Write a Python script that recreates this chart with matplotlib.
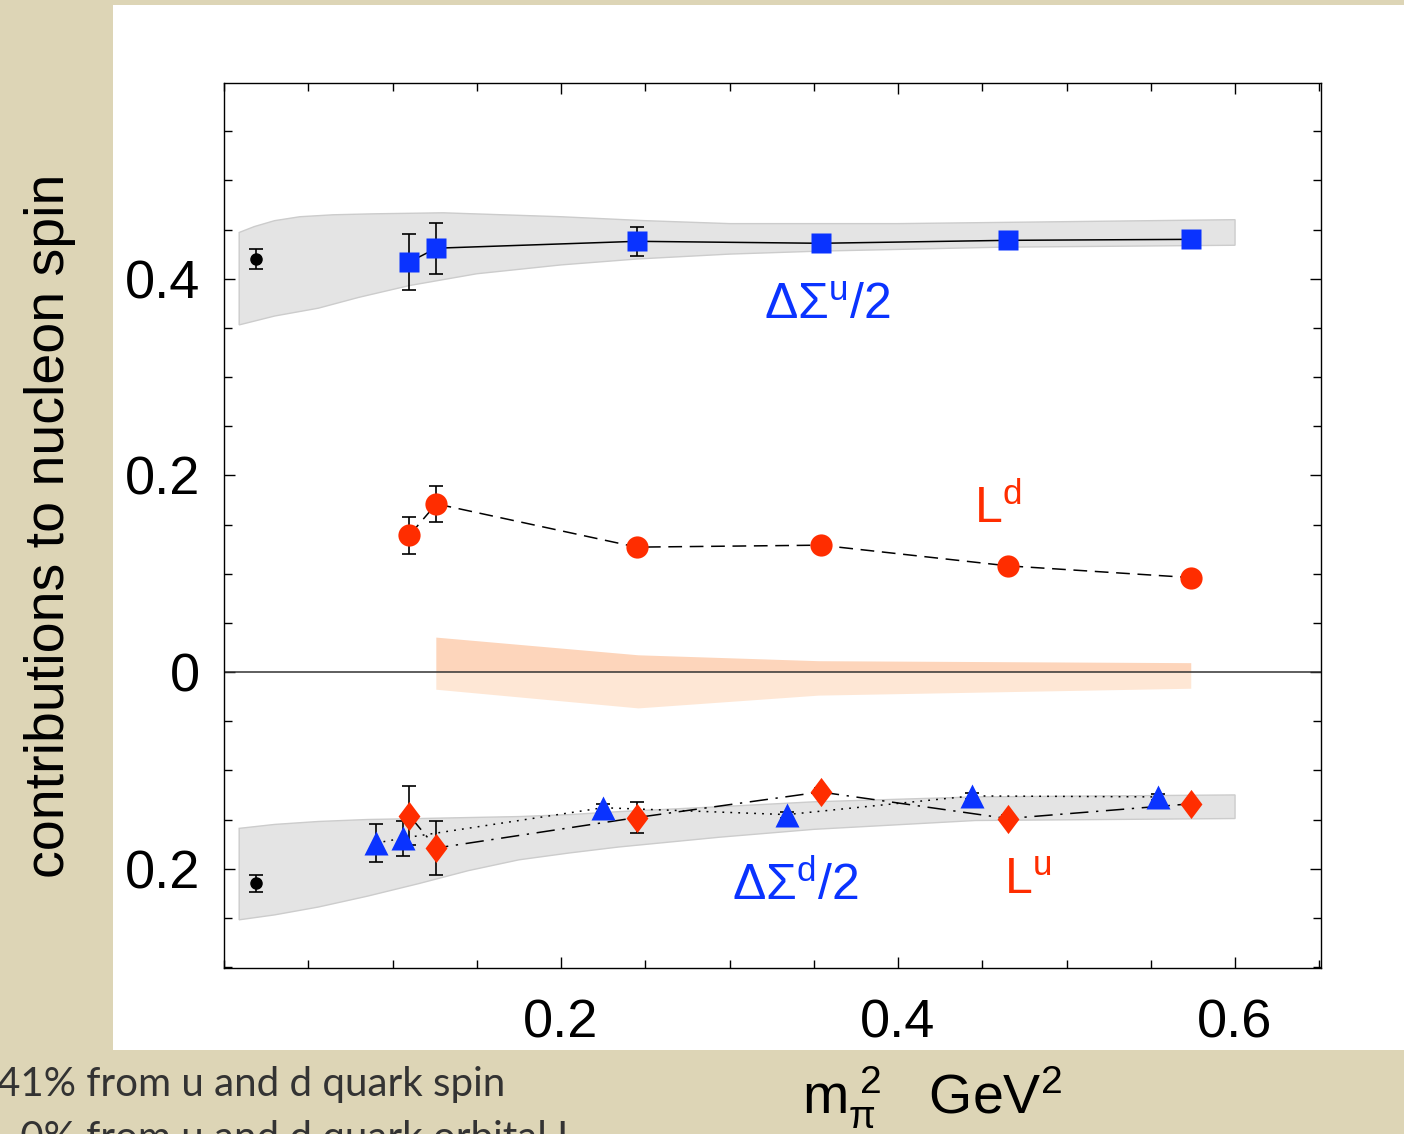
import matplotlib
matplotlib.use("Agg")
import matplotlib.pyplot as plt
import matplotlib.patches as patches
from matplotlib.ticker import MultipleLocator, FixedLocator

plt.rcParams['font.family'] = ['Liberation Sans', 'DejaVu Sans']
plt.rcParams['mathtext.fontset'] = 'custom'
plt.rcParams['mathtext.rm'] = 'Liberation Sans'
plt.rcParams['mathtext.it'] = 'Liberation Sans:italic'

# lattice points (m_pi^2 in GeV^2)
mpi2 = [0.110, 0.126, 0.245, 0.354, 0.465, 0.574]
mpi2_shift = [0.090, 0.106, 0.225, 0.334, 0.444, 0.554]

dsig_u = [0.417, 0.431, 0.438, 0.436, 0.439, 0.440]
dsig_u_err = [0.028, 0.026, 0.015, 0.004, 0.003, 0.003]
L_d = [0.139, 0.171, 0.127, 0.129, 0.108, 0.096]
L_d_err = [0.019, 0.018, 0.004, 0.003, 0.003, 0.003]
dsig_d = [-0.174, -0.169, -0.138, -0.145, -0.126, -0.127]
dsig_d_err = [0.019, 0.018, 0.004, 0.003, 0.003, 0.003]
L_u = [-0.146, -0.179, -0.148, -0.122, -0.149, -0.134]
L_u_err = [0.030, 0.027, 0.016, 0.004, 0.004, 0.003]

# physical point
phys_x = [0.019, 0.019]
phys_y = [0.420, -0.215]
phys_err = [0.010, 0.009]

# chiral extrapolation bands
band_u_x = [0.009, 0.018, 0.03, 0.045, 0.065, 0.09, 0.13, 0.2, 0.25, 0.3, 0.4, 0.5, 0.6]
band_u_hi = [0.447, 0.453, 0.459, 0.463, 0.465, 0.466, 0.467, 0.463, 0.459, 0.456, 0.456, 0.458, 0.460]
band_u_lo_x = [0.009, 0.03, 0.056, 0.08, 0.11, 0.15, 0.2, 0.245, 0.3, 0.353, 0.46, 0.6]
band_u_lo = [0.353, 0.362, 0.370, 0.381, 0.393, 0.405, 0.414, 0.420, 0.425, 0.428, 0.432, 0.434]

band_d_x = [0.009, 0.03, 0.056, 0.085, 0.116, 0.145, 0.175, 0.205, 0.234, 0.294, 0.35, 0.446, 0.6]
band_d_hi = [-0.159, -0.155, -0.152, -0.150, -0.149, -0.148, -0.147, -0.145, -0.142, -0.137,
             -0.132, -0.127, -0.125]
band_d_lo = [-0.252, -0.247, -0.239, -0.228, -0.215, -0.202, -0.191, -0.184, -0.178, -0.168,
             -0.160, -0.151, -0.149]

band_L_x = [0.126, 0.246, 0.353, 0.574]
band_L_hi = [0.035, 0.017, 0.011, 0.009]
band_L_lo = [-0.018, -0.037, -0.024, -0.017]

blue = '#0a33ff'
red = '#ff2d00'
beige = '#ddd5b6'

fig = plt.figure(figsize=(14.04, 11.34), dpi=100, facecolor=beige)
fig.add_artist(patches.Rectangle((113 / 1404, 1 - 1050 / 1134), 1 - 113 / 1404, (1050 - 5) / 1134,
                                 transform=fig.transFigure, facecolor='white',
                                 edgecolor='none', zorder=-1))
ax = fig.add_axes([224 / 1404, 1 - 968 / 1134, (1321 - 224) / 1404, (968 - 83) / 1134])

# bands
ax.fill(band_u_x + band_u_lo_x[::-1], band_u_hi + band_u_lo[::-1],
        facecolor='#e4e4e4', edgecolor='#cccccc', lw=1, zorder=1)
ax.fill(band_d_x + band_d_x[::-1], band_d_hi + band_d_lo[::-1],
        facecolor='#e4e4e4', edgecolor='#cccccc', lw=1, zorder=1)
ax.fill_between(band_L_x, 0, band_L_hi, facecolor='#fdd5bb', edgecolor='none', zorder=1)
ax.fill_between(band_L_x, band_L_lo, 0, facecolor='#fee7d5', edgecolor='none', zorder=1)

ax.axhline(0, color='#333333', lw=1.1, zorder=2)

# connecting lines
ax.plot(mpi2, dsig_u, color='black', lw=1.1, zorder=2)
ax.plot(mpi2, L_d, color='black', lw=1.1, dashes=(9, 5), zorder=2)
ax.plot(mpi2_shift, dsig_d, color='black', lw=1.1, dashes=(1.2, 4), zorder=2)
ax.plot(mpi2, L_u, color='black', lw=1.1, dashes=(12, 5, 1.5, 5), zorder=2)

# error bars
eb = dict(fmt='none', ecolor='black', elinewidth=1.2, capsize=5, capthick=1.2, zorder=3)
ax.errorbar(mpi2, dsig_u, yerr=dsig_u_err, **eb)
ax.errorbar(mpi2, L_d, yerr=L_d_err, **eb)
ax.errorbar(mpi2_shift, dsig_d, yerr=dsig_d_err, **eb)
ax.errorbar(mpi2, L_u, yerr=L_u_err, **eb)
ax.errorbar(phys_x, phys_y, yerr=phys_err, fmt='o', color='black', ms=8,
            ecolor='black', elinewidth=1.2, capsize=5, capthick=1.2, zorder=4)

# markers
diamond = [(0, 1), (0.75, 0), (0, -1), (-0.75, 0), (0, 1)]
ax.plot(mpi2, dsig_u, 's', color=blue, ms=14, mec='none', zorder=4)
ax.plot(mpi2, L_d, 'o', color=red, ms=16, mec='none', zorder=4)
ax.plot(mpi2_shift, dsig_d, '^', color=blue, ms=17, mec='none', zorder=4)
ax.plot(mpi2, L_u, marker=diamond, ls='none', color=red, ms=21, mec='none', zorder=4)

# labels on curves
ax.text(0.358, 0.372, r'$\mathrm{\Delta\Sigma^{u}/2}$', color=blue, fontsize=36,
        ha='center', va='center')
ax.text(0.459, 0.166, r'$\mathrm{L^{d}}$', color=red, fontsize=36, ha='center', va='center')
ax.text(0.339, -0.217, r'$\mathrm{\Delta\Sigma^{d}/2}$', color=blue, fontsize=36,
        ha='center', va='center')
ax.text(0.477, -0.212, r'$\mathrm{L^{u}}$', color=red, fontsize=36, ha='center', va='center')

ax.set_xlim(0, 0.651)
ax.set_ylim(-0.301, 0.599)
ax.xaxis.set_major_locator(FixedLocator([0.2, 0.4, 0.6]))
ax.xaxis.set_minor_locator(MultipleLocator(0.05))
ax.set_xticklabels(['0.2', '0.4', '0.6'])
ax.yaxis.set_major_locator(FixedLocator([-0.2, 0.0, 0.2, 0.4]))
ax.yaxis.set_minor_locator(MultipleLocator(0.05))
ax.set_yticklabels(['0.2', '0', '0.2', '0.4'])
ax.tick_params(which='both', direction='in', top=True, right=True, width=1, colors='black')
ax.tick_params(which='major', length=8, labelsize=39)
ax.tick_params(which='minor', length=5.5)
ax.tick_params(axis='x', which='major', pad=22)
ax.tick_params(axis='y', which='major', pad=17)
for s in ax.spines.values():
    s.set_linewidth(1)

fig.text(50 / 1404, 1 - 526 / 1134, 'contributions to nucleon spin', rotation=90,
         fontsize=40, ha='center', va='center', color='black')
fig.text(802 / 1404, 1 - 1113 / 1134, r'$\mathrm{m_{\pi}^{\ 2}}$   GeV$^{2}$',
         fontsize=40, ha='left', va='baseline', color='black')

fig.text(-3 / 1404, 1 - 1096 / 1134, '41% from u and d quark spin', fontsize=29,
         family=['Lato', 'DejaVu Sans'], color='#333333', ha='left', va='baseline')
fig.text(-3 / 1404, 1 - 1150 / 1134, '~0% from u and d quark orbital L', fontsize=29,
         family=['Lato', 'DejaVu Sans'], color='#333333', ha='left', va='baseline')

fig.savefig('out.png', dpi=100, facecolor=beige)
